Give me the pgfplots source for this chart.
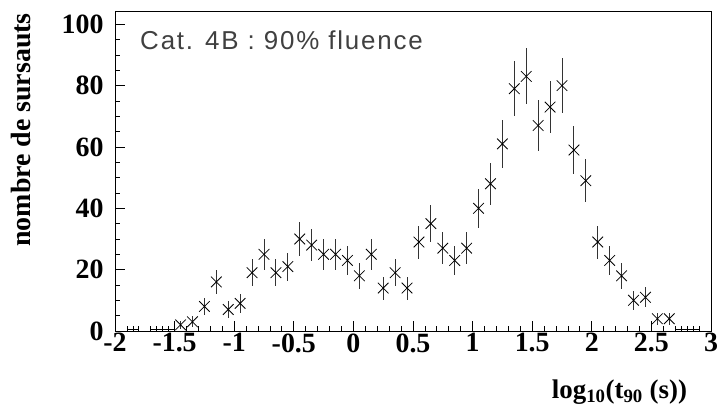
\documentclass[border=0pt]{standalone}
\usepackage{fontspec}
\setmainfont{Liberation Serif}
\newfontfamily\annfont{Liberation Sans}[LetterSpace=7]
\usepackage{pgfplots}
\usepackage{pgfplotstable}
\pgfplotsset{compat=1.18}

% bin centre, counts, sqrt(counts)
\pgfplotstableread{
x y ey
-1.45 2 1.41
-1.35 3 1.73
-1.25 8 2.83
-1.15 16 4.00
-1.05 7 2.65
-0.95 9 3.00
-0.85 19 4.36
-0.75 25 5.00
-0.65 19 4.36
-0.55 21 4.58
-0.45 30 5.48
-0.35 28 5.29
-0.25 25 5.00
-0.15 25 5.00
-0.05 23 4.80
0.05 18 4.24
0.15 25 5.00
0.25 14 3.74
0.35 19 4.36
0.45 14 3.74
0.55 29 5.39
0.65 35 5.92
0.75 27 5.20
0.85 23 4.80
0.95 27 5.20
1.05 40 6.32
1.15 48 6.93
1.25 61 7.81
1.35 79 8.89
1.45 83 9.11
1.55 67 8.19
1.65 73 8.54
1.75 80 8.94
1.85 59 7.68
1.95 49 7.00
2.05 29 5.39
2.15 23 4.80
2.25 18 4.24
2.35 10 3.16
2.45 11 3.32
2.55 4 2.00
2.65 4 2.00
}\hist

% empty bins
\pgfplotstableread{
x y
-1.85 0
-1.65 0
-1.55 0
2.75 0
2.85 0
}\zerobins

\begin{document}
\begin{tikzpicture}
\useasboundingbox (0,0) rectangle (720bp,410bp);
\begin{axis}[
  at={(115bp,79bp)}, anchor=south west,
  scale only axis, width=596bp, height=319bp,
  xmin=-2, xmax=3, ymin=0, ymax=104,
  xtick={-2,-1.5,-1,-0.5,0,0.5,1,1.5,2,2.5,3},
  xticklabels={-2,-1.5,-1,-0.5,0,0.5,1,1.5,2,2.5,3},
  ytick={0,20,40,60,80,100},
  yticklabels={0,20,40,60,80,100},
  minor x tick num=4, minor y tick num=3,
  tick align=inside, xtick pos=bottom, ytick pos=left,
  major tick length=10bp, minor tick length=5bp,
  tick style={black, line width=0.8bp},
  axis line style={line width=1bp},
  ticklabel style={font=\fontsize{28}{30}\selectfont\bfseries},
  yticklabel style={xshift=-8bp},
  xticklabel style={yshift=1bp},
  clip=false,
]
\addplot[only marks, mark=x, mark size=7.5bp, line width=0.8bp,
  error bars/.cd, y dir=both, y explicit, error mark=none,
  error bar style={line width=1bp, black!80}]
  table[x=x, y=y, y error=ey]{\hist};
\addplot[only marks, mark=|, mark size=2.5bp, line width=0.7bp, yshift=2bp,
  error bars/.cd, x dir=both, x fixed=0.05, error mark=|,
  error mark options={mark size=2.5bp, line width=0.7bp},
  error bar style={line width=0.7bp}]
  table[x=x, y=y]{\zerobins};

\node[anchor=west, inner sep=0, text=black!75]
  at (rel axis cs:0.042,0.912)
  {\annfont\fontsize{26}{28}\selectfont Cat. 4B : 90\% fluence};
\node[rotate=90, anchor=base east, inner sep=0]
  at (rel axis cs:-0.141,0.997)
  {\fontsize{28}{30}\selectfont\bfseries nombre de sursauts};
\node[anchor=base east, inner sep=0]
  at (rel axis cs:0.96,-0.213)
  {\fontsize{27}{30}\selectfont\bfseries log\textsubscript{10}(t\textsubscript{90} (s))};
\end{axis}
\end{tikzpicture}
\end{document}
